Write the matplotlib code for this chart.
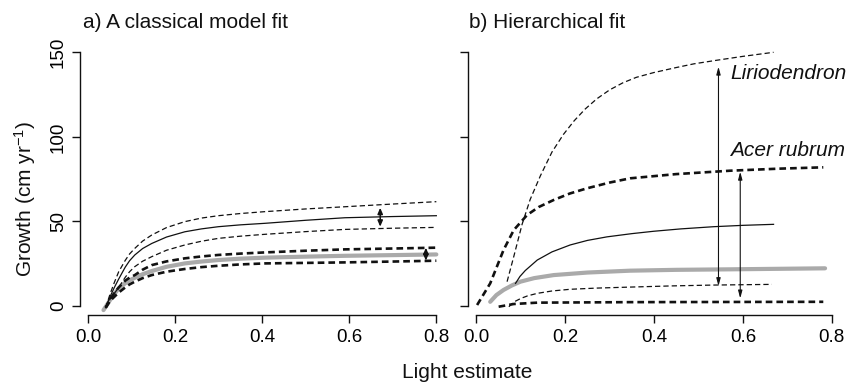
import matplotlib
matplotlib.use("Agg")
import matplotlib.pyplot as plt

plt.rcParams['font.family'] = ['Liberation Sans', 'DejaVu Sans']
plt.rcParams['mathtext.fontset'] = 'custom'
plt.rcParams['mathtext.rm'] = 'Liberation Sans'
plt.rcParams['mathtext.it'] = 'Liberation Sans:italic'
plt.rcParams['lines.scale_dashes'] = False

# ---------------- data: panel a (classical fit) ----------------
a_x = [0.04, 0.05, 0.06, 0.07, 0.085, 0.095, 0.107, 0.125, 0.146, 0.18, 0.222,
       0.26, 0.299, 0.35, 0.406, 0.5, 0.59, 0.7, 0.80]
a_lirio_upper = [-1, 7, 14, 20.3, 27, 30.8, 34.1, 38.4, 42, 46.4, 49.9,
                 52, 53.4, 54.7, 55.8, 57.4, 58.7, 60.3, 61.7]
a_lirio_mean = [-1, 5.5, 11, 16, 23, 26.8, 30.2, 34, 37, 40.8, 43.9,
                45.6, 46.9, 48, 48.9, 50.7, 52.2, 52.9, 53.4]
a_lirio_lower = [-1, 4, 7.5, 11, 17, 20.3, 23.3, 26.5, 29.2, 33, 36.1,
                 38.3, 40, 41.3, 42.4, 44, 45.3, 46, 46.5]
a_acer_upper = [-1, 4, 7.7, 11, 15, 16.8, 18.3, 21.5, 24.2, 26.4, 28.2,
                29.3, 30.2, 31, 31.7, 32.7, 33.5, 34, 34.5]
a_acer_lower = [-1, 3, 5.5, 8, 11, 12.8, 14.4, 16.5, 18.3, 20.3, 21.9,
                23, 23.8, 24.6, 25.2, 25.5, 25.8, 26.3, 26.8]
a_gray_x = [0.035, 0.05, 0.06, 0.07, 0.085, 0.095, 0.107, 0.125, 0.146, 0.18, 0.222,
            0.26, 0.299, 0.35, 0.406, 0.5, 0.59, 0.7, 0.80]
a_gray_y = [-2.4, 3.5, 7.2, 10.4, 13.5, 15.2, 16.7, 18.8, 20.7, 23.2, 25.2,
            26.3, 27.2, 28, 28.6, 29.2, 29.7, 30.1, 30.5]
a_arrows = [(0.671, 58.1, 46.9), (0.776, 34.5, 26.8)]

# ---------------- data: panel b (hierarchical fit) ----------------
b_lirio_upper_x = [0.069, 0.084, 0.103, 0.121, 0.144, 0.170, 0.196, 0.22, 0.245,
                   0.271, 0.30, 0.33, 0.36, 0.399, 0.45, 0.49, 0.541, 0.60, 0.669]
b_lirio_upper_y = [14.4, 29.2, 48.5, 63, 77, 91, 101.5, 109.5, 116.5,
                   122.5, 127.8, 132, 135.2, 138, 141, 143.2, 145.3, 147.6, 150]
b_lirio_mean_x = [0.088, 0.098, 0.11, 0.137, 0.17, 0.211, 0.25, 0.294, 0.35,
                  0.399, 0.46, 0.534, 0.60, 0.669]
b_lirio_mean_y = [13.4, 17.5, 21, 27.2, 32, 36.1, 38.8, 40.9, 42.8,
                  44.2, 45.6, 46.9, 47.7, 48.3]
b_lirio_lower_x = [0.073, 0.085, 0.10, 0.115, 0.137, 0.17, 0.211, 0.27, 0.346,
                   0.44, 0.534, 0.665]
b_lirio_lower_y = [-0.4, 2.5, 4.5, 6, 7.5, 8.9, 9.9, 10.6, 11.2,
                   11.9, 12.4, 12.8]
b_acer_upper_x = [0.0015, 0.031, 0.061, 0.084, 0.114, 0.14, 0.174, 0.21, 0.249,
                  0.30, 0.346, 0.45, 0.571, 0.68, 0.781]
b_acer_upper_y = [0.6, 13.4, 33.1, 44.9, 53.8, 58.5, 62.7, 66.5, 69.6,
                  73, 75.5, 78, 80, 81.2, 82]
b_acer_mean_x = [0.031, 0.045, 0.061, 0.08, 0.099, 0.13, 0.174, 0.25, 0.346,
                 0.45, 0.571, 0.785]
b_acer_mean_y = [2.5, 6.5, 9.5, 12.2, 14.4, 16.5, 18.3, 19.8, 20.9,
                 21.4, 21.7, 22.3]
b_acer_lower_x = [0.05, 0.084, 0.137, 0.346, 0.781]
b_acer_lower_y = [-0.4, 1.2, 2.0, 2.3, 2.5]
b_arrows = [(0.545, 141.5, 11.8), (0.594, 79.4, 4.5)]
b_labels = [("Liriodendron", 0.571, 137.6), ("Acer rubrum", 0.570, 92.2)]

x_ticks = [0.0, 0.2, 0.4, 0.6, 0.8]
x_ticklabels = ["0.0", "0.2", "0.4", "0.6", "0.8"]
y_ticks = [0, 50, 100, 150]

BLACK = '#111111'
GRAY = '#aaaaaa'
thin_dash = dict(color=BLACK, lw=0.9, dashes=(3.8, 2.2))
thick_dash = dict(color=BLACK, lw=1.9, dashes=(4.8, 2.9))
thin_solid = dict(color=BLACK, lw=0.9)
gray_line = dict(color=GRAY, lw=3.0, solid_capstyle='round', solid_joinstyle='round')

W, H = 853, 382
fig = plt.figure(figsize=(W / 100, H / 100), dpi=100)
axA = fig.add_axes([80 / W, 1 - 315 / H, (445.9 - 80) / W, (315 - 43) / H])
axB = fig.add_axes([468 / W, 1 - 315 / H, (841.5 - 468) / W, (315 - 43) / H])

for ax in (axA, axB):
    ax.set_xlim(-0.019, 0.822)
    ax.set_ylim(-5.3, 155.5)
    for s in ('top', 'right'):
        ax.spines[s].set_visible(False)
    ax.spines['left'].set_bounds(0, 150)
    ax.spines['bottom'].set_bounds(0, 0.8)
    for s in ('left', 'bottom'):
        ax.spines[s].set_linewidth(1.0)
        ax.spines[s].set_color(BLACK)
    ax.set_xticks(x_ticks)
    ax.set_xticklabels(x_ticklabels)
    ax.set_yticks(y_ticks)
    ax.tick_params(axis='x', direction='out', length=5.8, width=1.0, pad=4.5,
                   labelsize=13.5, color=BLACK)
    ax.tick_params(axis='y', direction='out', length=5.8, width=1.0, pad=3.5,
                   labelsize=13.5, color=BLACK, labelrotation=90)
    ax.patch.set_visible(False)

for lab in axA.get_yticklabels():
    lab.set_va('center')
axB.set_yticklabels([])

# panel a
axA.plot(a_gray_x, a_gray_y, **gray_line)
axA.plot(a_x, a_lirio_upper, **thin_dash)
axA.plot(a_x, a_lirio_mean, **thin_solid)
axA.plot(a_x, a_lirio_lower, **thin_dash)
axA.plot(a_x, a_acer_upper, **thick_dash)
axA.plot(a_x, a_acer_lower, **thick_dash)
for (x, y1, y2) in a_arrows:
    axA.annotate('', xy=(x, y1), xytext=(x, y2),
                 arrowprops=dict(arrowstyle='<|-|>,head_length=0.35,head_width=0.15',
                                 lw=1.1, color=BLACK, shrinkA=0, shrinkB=0,
                                 mutation_scale=10))

# panel b
axB.plot(b_acer_mean_x, b_acer_mean_y, **gray_line)
axB.plot(b_lirio_upper_x, b_lirio_upper_y, **thin_dash)
axB.plot(b_lirio_mean_x, b_lirio_mean_y, **thin_solid)
axB.plot(b_lirio_lower_x, b_lirio_lower_y, **thin_dash)
axB.plot(b_acer_upper_x, b_acer_upper_y, **thick_dash)
axB.plot(b_acer_lower_x, b_acer_lower_y, **thick_dash)
for (x, y1, y2) in b_arrows:
    axB.annotate('', xy=(x, y1), xytext=(x, y2),
                 arrowprops=dict(arrowstyle='<|-|>,head_length=0.45,head_width=0.12',
                                 lw=0.8, color=BLACK, shrinkA=0, shrinkB=0,
                                 mutation_scale=10))
for (txt, x, y) in b_labels:
    axB.text(x, y, txt, fontsize=15, fontstyle='italic', ha='left', va='center',
             color=BLACK)

# titles and axis labels
fig.text(83 / W, 1 - 28.3 / H, 'a) A classical model fit', fontsize=15,
         ha='left', va='baseline', color=BLACK)
fig.text(469 / W, 1 - 28.3 / H, 'b) Hierarchical fit', fontsize=15,
         ha='left', va='baseline', color=BLACK)
fig.text(467 / W, 1 - 378 / H, 'Light estimate', fontsize=15,
         ha='center', va='baseline', color=BLACK)
fig.text(25 / W, 1 - 199 / H, r'Growth (cm yr$^{\mathregular{-1}}$)', fontsize=15,
         rotation=90, ha='center', va='center', color=BLACK)

fig.savefig('out.png', dpi=100)
